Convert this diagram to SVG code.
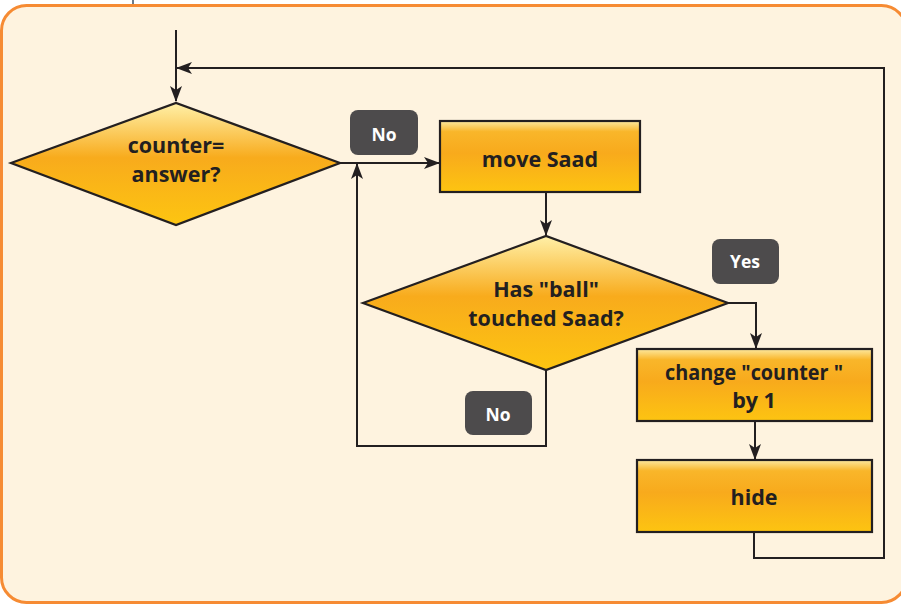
<svg xmlns="http://www.w3.org/2000/svg" width="901" height="605" viewBox="0 0 901 605">
<defs>
<linearGradient id="gDia" x1="0" y1="0" x2="0" y2="1">
<stop offset="0" stop-color="#fff0a8"/>
<stop offset="0.45" stop-color="#f8ab1c"/>
<stop offset="1" stop-color="#fdc511"/>
</linearGradient>
<linearGradient id="gBox" x1="0" y1="0" x2="0" y2="1">
<stop offset="0" stop-color="#fde9a0"/>
<stop offset="0.15" stop-color="#f9b62a"/>
<stop offset="0.45" stop-color="#f8aa1c"/>
<stop offset="1" stop-color="#fdc411"/>
</linearGradient>
<marker id="arr" viewBox="0 0 16 12" refX="15" refY="6" markerWidth="16" markerHeight="12" markerUnits="userSpaceOnUse" orient="auto">
<path d="M0,0 L16,6 L0,12 L4,6 Z" fill="#231f20"/>
</marker>
</defs>
<style>
.shape{stroke:#231f20;stroke-width:2.2}
.dia{fill:url(#gDia)}
.box{fill:url(#gBox)}
.t{font-family:"Open Sans","Liberation Sans",sans-serif;font-weight:bold;font-size:21.5px;fill:#231f20;text-anchor:middle}
.lbl rect{fill:#4d4b4c}
.lbl text{font-family:"Open Sans","Liberation Sans",sans-serif;font-weight:bold;font-size:17.5px;fill:#ffffff;text-anchor:middle}
.c{fill:none;stroke:#231f20;stroke-width:2}
</style>
<line x1="133" y1="0" x2="133" y2="6" stroke="#6b7b8b" stroke-width="2"/>
<rect x="1.5" y="5.5" width="905" height="597" rx="25" fill="#fef3df" stroke="#f68b33" stroke-width="3"/>

<g id="connectors">
<path class="c" d="M176,30 V101" marker-end="url(#arr)"/>
<path class="c" d="M754,533 V558 H884 V68 H177" marker-end="url(#arr)"/>
<path class="c" d="M340,163 H439" marker-end="url(#arr)"/>
<path class="c" d="M546,371 V446 H357 V164" marker-end="url(#arr)"/>
<path class="c" d="M546,192 V235" marker-end="url(#arr)"/>
<path class="c" d="M728,303 H756 V348" marker-end="url(#arr)"/>
<path class="c" d="M755,421 V459" marker-end="url(#arr)"/>
</g>

<g id="decision1">
<polygon class="shape dia" points="11,163 176,103 340,163 176,225"/>
<text class="t" x="176" y="153">counter=</text>
<text class="t" x="176" y="182">answer?</text>
</g>

<g id="label-no1" class="lbl">
<rect x="350" y="110" width="68" height="45" rx="8"/>
<text x="384" y="141">No</text>
</g>

<g id="move-saad">
<rect class="shape box" x="440" y="121" width="200" height="71"/>
<text class="t" x="540" y="167">move Saad</text>
</g>

<g id="decision2">
<polygon class="shape dia" points="363,303 546,236 728,303 546,370"/>
<text class="t" x="546" y="297">Has "ball"</text>
<text class="t" x="546" y="326">touched Saad?</text>
</g>

<g id="label-yes" class="lbl">
<rect x="712" y="239" width="67" height="45" rx="8"/>
<text x="745" y="268">Yes</text>
</g>

<g id="label-no2" class="lbl">
<rect x="465" y="391" width="67" height="44" rx="8"/>
<text x="498" y="421">No</text>
</g>

<g id="change-counter">
<rect class="shape box" x="637" y="349" width="235" height="72"/>
<text class="t" x="754" y="380" textLength="178" lengthAdjust="spacingAndGlyphs">change "counter "</text>
<text class="t" x="754" y="408">by 1</text>
</g>

<g id="hide">
<rect class="shape box" x="637" y="460" width="235" height="72"/>
<text class="t" x="754" y="505">hide</text>
</g>
</svg>
